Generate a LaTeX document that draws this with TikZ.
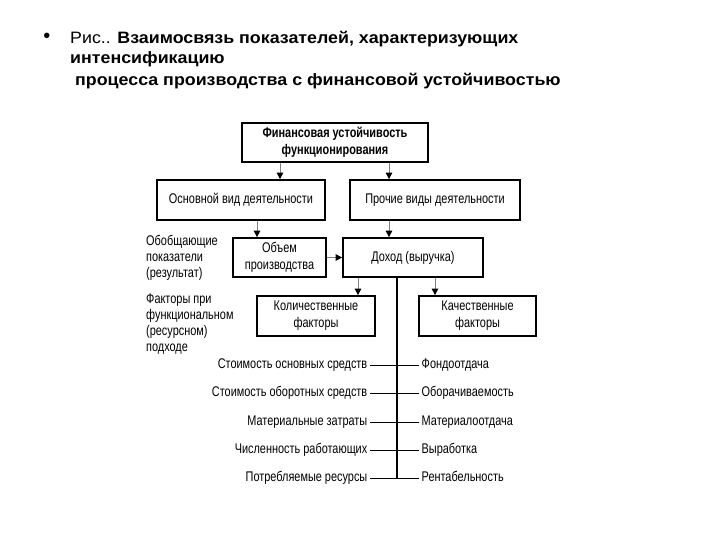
\documentclass[tikz,border=0pt]{standalone}
\usepackage{fontspec}
\setmainfont{Liberation Sans}
\newfontfamily\dfont[FakeStretch=0.78]{Liberation Sans}
\newfontfamily\tfont[FakeStretch=1.08]{Liberation Sans}
\usetikzlibrary{arrows.meta}
\tikzset{
  box/.style={draw=black, line width=1.7pt, align=center, inner sep=0pt,
    font=\dfont\fontsize{14}{17}\selectfont},
  lbl/.style={inner sep=0pt, align=left, font=\dfont\fontsize{14}{16}\selectfont},
  item/.style={inner xsep=2.5pt, inner ysep=0pt, text height=10pt, text depth=3pt,
    font=\dfont\fontsize{14}{16}\selectfont},
  ttl/.style={inner sep=0pt, anchor=base west, font=\tfont\fontsize{16.5}{19}\selectfont},
  arr/.style={draw=black!50, line width=0.8pt, -{Triangle[length=6.5pt,width=6.5pt,black]}},
  tie/.style={draw=black, line width=0.9pt},
}
\begin{document}
\begin{tikzpicture}[x=1pt,y=-1pt]
\useasboundingbox (0,0) rectangle (720,540);
% title
\node[inner sep=0pt, font=\fontsize{20}{20}\selectfont] (bul) at (47,38) {•};
\node[ttl] (t1) at (70,44) {Рис.. \textbf{Взаимосвязь показателей, характеризующих}};
\node[ttl] (t2) at (70,64) {\textbf{интенсификацию}};
\node[ttl] (t3) at (75,86) {\textbf{процесса производства с финансовой устойчивостью}};
% boxes
\node[box, minimum width=186pt, minimum height=39pt, font=\dfont\bfseries\fontsize{14}{17}\selectfont] (top) at (335,142.5) {Финансовая устойчивость\\функционирования};
\node[box, minimum width=168pt, minimum height=40pt] (lb) at (241,200) {Основной вид деятельности};
\node[box, minimum width=170pt, minimum height=40pt] (rb) at (435,200) {Прочие виды деятельности};
\node[box, minimum width=93pt, minimum height=39pt] (ob) at (279.5,257.5) {Объем\\производства};
\node[box, minimum width=140pt, minimum height=39pt] (dh) at (413,257.5) {Доход (выручка)};
\node[box, minimum width=118pt, minimum height=40pt] (kol) at (316,316) {Количественные\\факторы};
\node[box, minimum width=117pt, minimum height=40pt] (kach) at (477.5,316) {Качественные\\факторы};
% side labels
\node[lbl, anchor=north west] (g1) at (146,235) {Обобщающие\\показатели\\(результат)};
\node[lbl, anchor=north west] (g2) at (146,294) {Факторы при\\функциональном\\(ресурсном)\\подходе};
% arrows
\draw[arr] (top.south -| 280,0) -- (lb.north -| 280,0);
\draw[arr] (top.south -| 389,0) -- (rb.north -| 389,0);
\draw[arr] (lb.south -| 257,0) -- (ob.north -| 257,0);
\draw[arr] (rb.south -| 389,0) -- (dh.north -| 389,0);
\draw[arr] (ob.east) -- (dh.west);
\draw[arr] (dh.south -| 358,0) -- (kol.north -| 358,0);
\draw[arr] (dh.south -| 435,0) -- (kach.north -| 435,0);
% factor rows
\node[item, anchor=east] (l1) at (370,365) {Стоимость основных средств};
\node[item, anchor=east] (l2) at (370,393) {Стоимость оборотных средств};
\node[item, anchor=east] (l3) at (370,422) {Материальные затраты};
\node[item, anchor=east] (l4) at (370,450) {Численность работающих};
\node[item, anchor=east] (l5) at (370,478) {Потребляемые ресурсы};
\node[item, anchor=west] (r1) at (419,365) {Фондоотдача};
\node[item, anchor=west] (r2) at (419,393) {Оборачиваемость};
\node[item, anchor=west] (r3) at (419,422) {Материалоотдача};
\node[item, anchor=west] (r4) at (419,450) {Выработка};
\node[item, anchor=west] (r5) at (419,478) {Рентабельность};
\coordinate (vb) at (397,478.5);
\draw[tie, line width=1.1pt] (dh.south -| vb) -- (vb);
\foreach \i in {1,...,5} { \draw[tie] (l\i.east) -- (r\i.west); }
\end{tikzpicture}
\end{document}
